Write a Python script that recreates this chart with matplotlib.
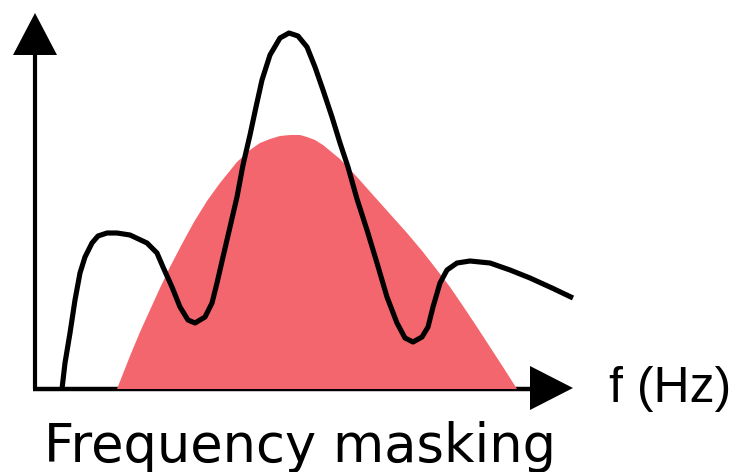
import matplotlib
matplotlib.use('Agg')
import matplotlib.pyplot as plt

# диаграмма в пиксельных координатах картинки (y вниз)
signal_x = [62, 65, 70, 75, 80, 85, 92, 98, 107, 117, 130, 147, 157, 163, 172, 180,
            188, 195, 205, 212, 217, 223, 230, 237, 243, 250, 256, 262, 270, 280, 289,
            298, 307, 315, 323, 332, 340, 348, 357, 367, 377, 387, 397, 405, 413, 422,
            428, 433, 440, 447, 457, 470, 490, 510, 530, 552, 573]
signal_y = [389, 363, 333, 300, 273, 257, 243, 236, 233, 233, 235, 243, 253, 267, 287, 307,
            320, 323, 317, 303, 283, 257, 227, 197, 165, 135, 107, 80, 55, 38, 33,
            36, 47, 67, 90, 117, 143, 167, 199, 230, 263, 297, 323, 338, 342, 337,
            327, 307, 283, 270, 263, 261, 263, 270, 278, 288, 298]

mask_x = [117, 130, 140, 150, 160, 170, 182, 194, 207, 220, 237, 250, 260, 270, 280,
          290, 300, 307, 315, 323, 340, 357, 373, 390, 407, 423, 437, 450, 463, 477,
          490, 503, 517]
mask_y = [389, 356, 332, 310, 288, 267, 244, 222, 201, 183, 162, 150, 143, 139, 136,
          135, 135, 137, 140, 145, 159, 177, 195, 214, 233, 252, 270, 287, 306, 327,
          347, 367, 389]

base_y = 389
x_axis = [33, 530]
y_axis = [389, 55]
axis_x0 = 35
head_up_x = [35, 13, 57]
head_up_y = [13, 55, 55]
head_right_x = [573, 530, 530]
head_right_y = [388, 366, 410]

red = '#f4666e'


def main():
	fig = plt.figure(figsize=(7.4, 4.72), dpi=100)
	ax = fig.add_axes([0, 0, 1, 1])
	ax.set_xlim(0, 740)
	ax.set_ylim(472, 0)
	ax.axis('off')

	# оси
	ax.plot(x_axis, [base_y, base_y], color='black', lw=3.2, solid_capstyle='butt', zorder=1)
	ax.plot([axis_x0, axis_x0], y_axis, color='black', lw=3.0, solid_capstyle='butt', zorder=1)
	ax.fill(head_up_x, head_up_y, color='black', lw=0, zorder=3)
	ax.fill(head_right_x, head_right_y, color='black', lw=0, zorder=3)

	# маска
	ax.fill(mask_x, mask_y, color=red, lw=0, zorder=2)

	# сигнал
	ax.plot(signal_x, signal_y, color='black', lw=3.7, solid_joinstyle='round',
			solid_capstyle='butt', zorder=4)

	ax.text(609, 402, 'f (Hz)', fontsize=36, family='Liberation Sans',
			ha='left', va='baseline')
	ax.text(44, 462, 'Frequency masking', fontsize=38, family='DejaVu Sans',
			ha='left', va='baseline')

	fig.savefig('out.png', dpi=100)


if __name__ == '__main__':
	main()
